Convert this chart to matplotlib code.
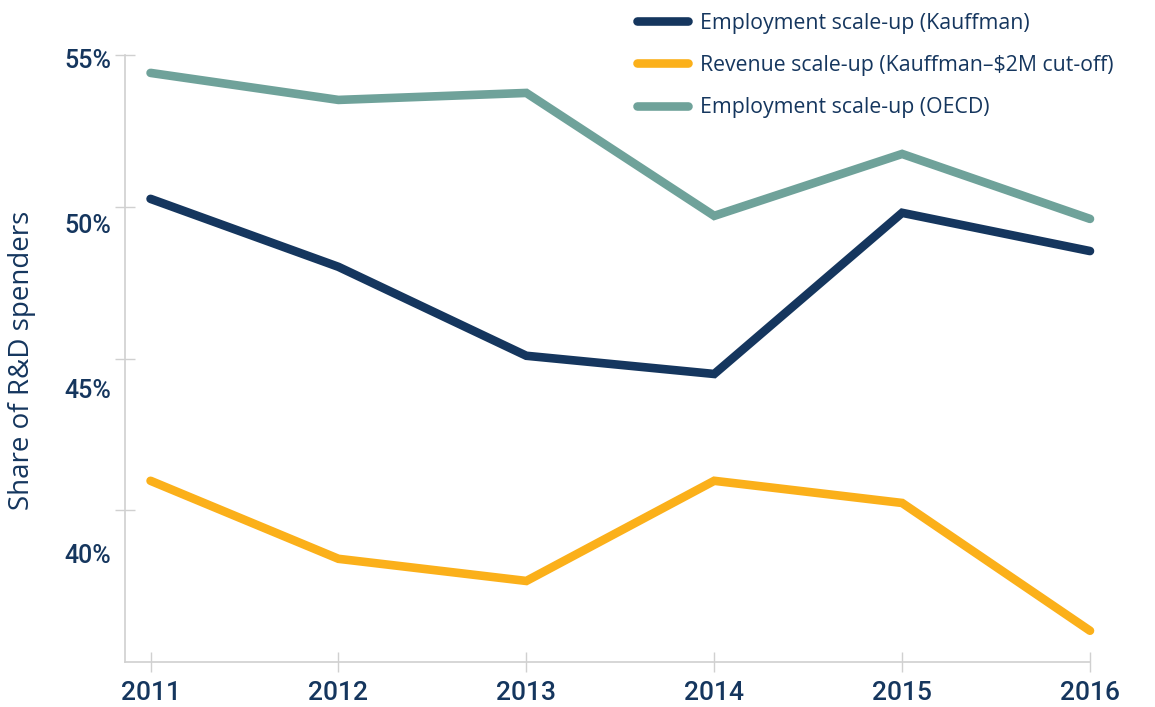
import matplotlib.pyplot as plt
import matplotlib.transforms as mtransforms

# data
years = [2011, 2012, 2013, 2014, 2015, 2016]
emp_kauffman = [50.26, 48.02, 45.09, 44.49, 49.80, 48.54]
rev_kauffman = [40.97, 38.40, 37.67, 40.97, 40.24, 36.03]
emp_oecd = [54.41, 53.52, 53.75, 49.70, 51.74, 49.60]
labels = ['Employment scale-up (Kauffman)',
          'Revenue scale-up (Kauffman\u2013$2M cut-off)',
          'Employment scale-up (OECD)']
y_ticks = [55, 50, 45, 40]
y_ticklabels = ['55%', '50%', '45%', '40%']

navy = '#15365e'
orange = '#fbb01a'
teal = '#6fa29a'
grey = '#d0d0d0'

fig = plt.figure(figsize=(11.55, 7.07), dpi=100)
ax = fig.add_axes([125/1155, 1-662/707, (1090-125)/1155, (662-55)/707])

for vals, col, lab in zip([emp_kauffman, rev_kauffman, emp_oecd], [navy, orange, teal], labels):
    ax.plot(years, vals, color=col, lw=6.2, solid_capstyle='round',
            solid_joinstyle='miter', clip_on=False, label=lab)

ax.set_xlim(2010.864, 2016)
ax.set_ylim(35, 55)
ax.set_xticks(years)
ax.set_xticklabels([str(y) for y in years])
ax.set_yticks(y_ticks)
ax.set_yticklabels(y_ticklabels)

for s in ['top', 'right']:
    ax.spines[s].set_visible(False)
for s in ['left', 'bottom']:
    ax.spines[s].set_color(grey)
    ax.spines[s].set_linewidth(1.2)

ax.tick_params(axis='both', direction='inout', length=14, width=1.0, color=grey)
ax.tick_params(axis='x', pad=7)
ax.tick_params(axis='y', pad=3)

for t in ax.get_xticklabels():
    t.set_family(['Roboto', 'DejaVu Sans'])
    t.set_weight('medium')
    t.set_fontsize(19)
    t.set_color(navy)

# y labels in the original drift below their ticks
for i, t in enumerate(ax.get_yticklabels()):
    t.set_family(['Roboto', 'DejaVu Sans'])
    t.set_weight('medium')
    t.set_fontsize(18)
    t.set_color(navy)
    off = (3 + 13.3 * i) / 100.0
    t.set_transform(t.get_transform() + mtransforms.ScaledTranslation(0, -off, fig.dpi_scale_trans))

fig.text(22/1155, 1-360/707, 'Share of R&D spenders', rotation=90, ha='center', va='center',
         fontsize=20, color=navy, family=['Open Sans', 'DejaVu Sans'])

leg = fig.legend(loc='upper left', bbox_to_anchor=(628/1155, 1-4/707), frameon=False,
                 prop={'family': ['Open Sans', 'DejaVu Sans'], 'size': 15.3},
                 handlelength=2.4, handletextpad=0.6, labelspacing=1.0, borderaxespad=0)
for t in leg.get_texts():
    t.set_color(navy)

fig.savefig('out.png', dpi=100)
